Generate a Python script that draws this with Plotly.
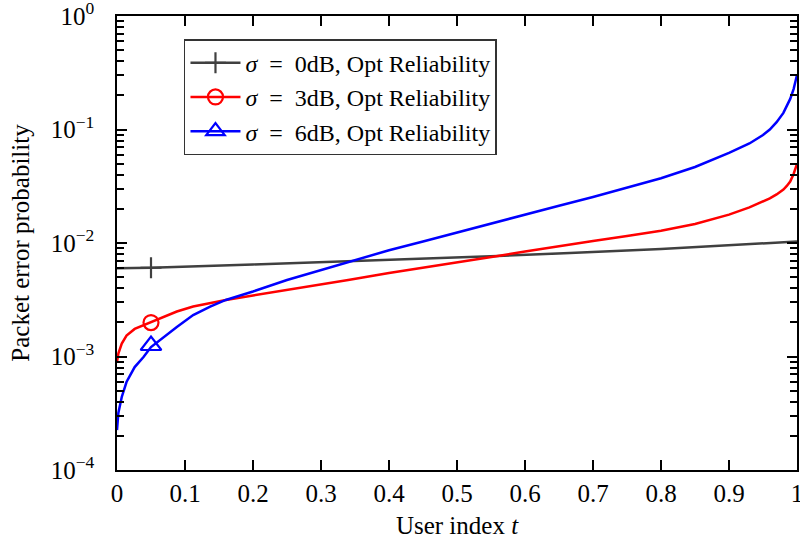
import plotly.graph_objects as go

t = [0, 0.002, 0.007, 0.014, 0.026, 0.039, 0.05, 0.063, 0.088, 0.112, 0.137, 0.16,
     0.2, 0.25, 0.3, 0.34, 0.4, 0.45, 0.5, 0.56, 0.6, 0.65, 0.7, 0.75, 0.8, 0.85, 0.9,
     0.93, 0.95, 0.96, 0.97, 0.98, 0.985, 0.99, 0.995, 1.0]

pe_6db = [2.25e-4, 3.18e-4, 4.40e-4, 5.96e-4, 8.07e-4, 9.90e-4, 1.21e-3, 1.40e-3, 1.82e-3,
          2.32e-3, 2.75e-3, 3.15e-3, 3.74e-3, 4.72e-3, 5.78e-3, 6.80e-3, 8.63e-3, 1.03e-2,
          1.24e-2, 1.53e-2, 1.78e-2, 2.13e-2, 2.54e-2, 3.05e-2, 3.72e-2, 4.67e-2, 6.21e-2,
          7.53e-2, 8.95e-2, 0.100, 0.116, 0.140, 0.160, 0.186, 0.227, 0.302]

pe_3db = [9.0e-4, 1.06e-3, 1.30e-3, 1.53e-3, 1.75e-3, 1.88e-3, 1.99e-3, 2.16e-3, 2.49e-3,
          2.76e-3, 2.96e-3, 3.15e-3, 3.45e-3, 3.85e-3, 4.31e-3, 4.72e-3, 5.44e-3, 6.03e-3,
          6.76e-3, 7.68e-3, 8.41e-3, 9.41e-3, 1.04e-2, 1.15e-2, 1.28e-2, 1.47e-2, 1.78e-2,
          2.06e-2, 2.30e-2, 2.47e-2, 2.68e-2, 2.96e-2, 3.18e-2, 3.48e-2, 4.06e-2, 4.97e-2]

t_0db = [0, 0.05, 0.2, 0.343, 0.56, 0.666, 0.8, 1.0]
pe_0db = [5.98e-3, 6.05e-3, 6.47e-3, 6.90e-3, 7.68e-3, 8.16e-3, 8.85e-3, 1.03e-2]

marker_t = 0.05
marker_0db = 6.05e-3
marker_3db = 1.99e-3
marker_6db = 1.25e-3

NB = "\u00a0"
names = [f"<i>σ</i>{NB}{NB}={NB}{NB}0dB, Opt Reliability",
         f"<i>σ</i>{NB}{NB}={NB}{NB}3dB, Opt Reliability",
         f"<i>σ</i>{NB}{NB}={NB}{NB}6dB, Opt Reliability"]

FONT = "Liberation Serif"
gray, red, blue = "#404040", "#ff0000", "#0000ff"

fig = go.Figure()
series = [
    (t_0db, pe_0db, marker_0db, gray, "cross-thin-open", 15, names[0]),
    (t, pe_3db, marker_3db, red, "circle-open", 15, names[1]),
    (t, pe_6db, marker_6db, blue, "triangle-up-open", 18, names[2]),
]
for i, (xs, ys, my, col, sym, ms, nm) in enumerate(series):
    fig.add_trace(go.Scatter(x=xs, y=ys, mode="lines",
                             line=dict(color=col, width=2.5),
                             showlegend=False, legendgroup=str(i), hoverinfo="skip"))
    fig.add_trace(go.Scatter(x=[marker_t], y=[my], mode="lines+markers", name=nm,
                             legendgroup=str(i),
                             line=dict(color=col, width=2.5),
                             marker=dict(symbol=sym, size=ms, color=col,
                                         line=dict(color=col, width=2.2))))

ytv = [1e-4, 1e-3, 1e-2, 1e-1, 1]
ytt = ["10<sup>−4</sup>", "10<sup>−3</sup>", "10<sup>−2</sup>", "10<sup>−1</sup>", "10<sup>0</sup>"]
minor_vals = [m * 10 ** e for e in range(-4, 0) for m in range(2, 10)]

xtv = [0, 0.1, 0.2, 0.3, 0.4, 0.5, 0.6, 0.7, 0.8, 0.9, 1]
xtt = ["0", "0.1", "0.2", "0.3", "0.4", "0.5", "0.6", "0.7", "0.8", "0.9", "1"]

fig.update_layout(
    width=800, height=545,
    margin=dict(l=117, r=3, t=16, b=75),
    plot_bgcolor="white", paper_bgcolor="white",
    font=dict(family=FONT, size=25, color="black"),
    showlegend=True,
    legend=dict(x=0.0985, y=0.949, xanchor="left", yanchor="top",
                bgcolor="white", bordercolor="#333333", borderwidth=1.5,
                font=dict(family=FONT, size=24), tracegroupgap=0,
                itemwidth=50),
    xaxis=dict(range=[0, 1], tickvals=xtv, ticktext=xtt, ticks="inside", ticklen=10,
               tickwidth=1.5, tickcolor="black", showline=True, linecolor="black",
               linewidth=1.5, mirror="ticks", showgrid=False, zeroline=False,
               tickfont=dict(size=25), ticklabelstandoff=0, ticklabeloverflow="allow",
               automargin=False,
               title=dict(text="User index <i>t</i>", font=dict(size=25), standoff=11)),
    yaxis=dict(type="log", range=[-4, 0], tickvals=ytv, ticktext=ytt, ticks="inside",
               ticklen=10, tickwidth=1.5, tickcolor="black", showline=True,
               linecolor="black", linewidth=1.5, mirror="ticks", showgrid=False,
               zeroline=False, tickfont=dict(size=25), ticklabelstandoff=16,
               ticklabeloverflow="allow", automargin=False,
               minor=dict(tickvals=minor_vals, ticks="inside", ticklen=7, tickwidth=1.5,
                          tickcolor="black", showgrid=False),
               title=dict(text="Packet error probability", font=dict(size=25), standoff=14)),
)

# remove the default 8px page margin so the 800x545 figure fills the window exactly
fig.write_html("out.html", config={"displayModeBar": False},
               post_script="document.body.style.margin='0';")
